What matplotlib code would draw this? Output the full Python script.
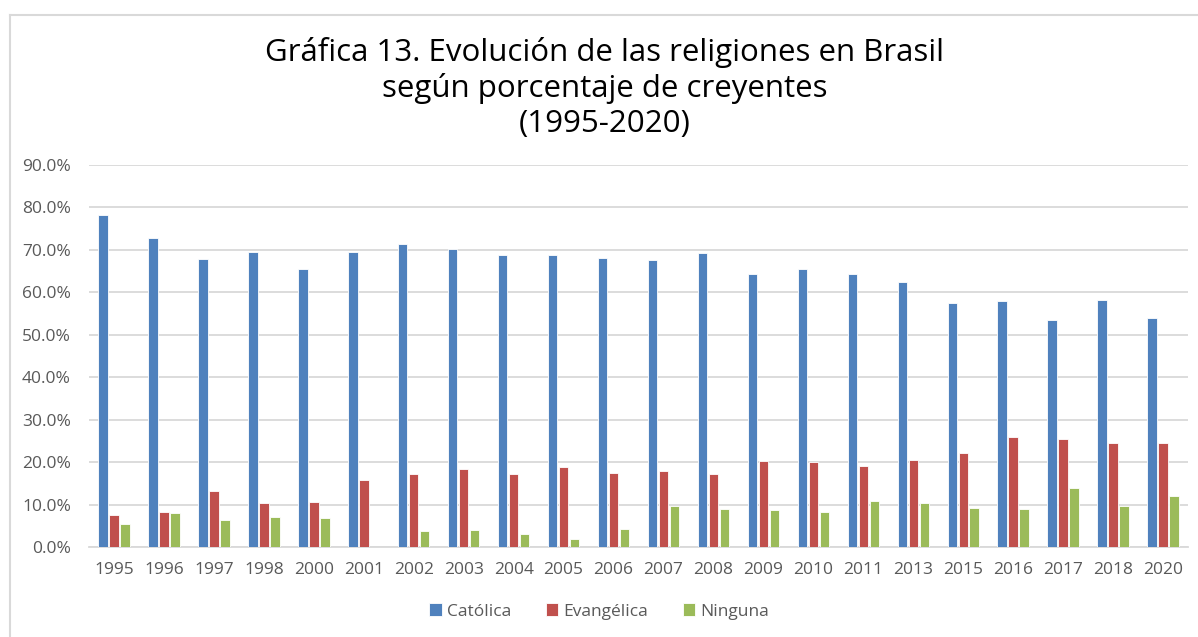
import numpy as np
import matplotlib
matplotlib.use("Agg")
import matplotlib.pyplot as plt
from matplotlib.ticker import PercentFormatter
from matplotlib.lines import Line2D

years = ["1995", "1996", "1997", "1998", "2000", "2001", "2002", "2003", "2004", "2005", "2006",
         "2007", "2008", "2009", "2010", "2011", "2013", "2015", "2016", "2017", "2018", "2020"]
catolica = [78.2, 72.9, 67.8, 69.4, 65.6, 69.6, 71.3, 70.1, 68.9, 68.9, 68.2,
            67.5, 69.2, 64.2, 65.6, 64.4, 62.4, 57.6, 57.9, 53.5, 58.1, 54.0]
evangelica = [7.5, 8.3, 13.1, 10.4, 10.7, 15.7, 17.2, 18.3, 17.2, 18.8, 17.4,
              17.9, 17.2, 20.2, 20.0, 19.1, 20.4, 22.2, 25.9, 25.5, 24.6, 24.4]
ninguna = [5.4, 7.9, 6.4, 7.1, 6.8, 0.0, 3.8, 4.0, 3.1, 1.9, 4.2,
           9.7, 9.0, 8.6, 8.3, 10.8, 10.4, 9.3, 9.0, 13.8, 9.7, 12.1]
series = ["Católica", "Evangélica", "Ninguna"]
colors = ["#4F81BD", "#C0504D", "#9BBB59"]

plt.rcParams['font.family'] = ['Open Sans', 'DejaVu Sans']

fig = plt.figure(figsize=(11.98, 6.37), dpi=100)
ax = fig.add_axes([0.0743, 0.1413, 0.9174, 0.5997])

x = np.arange(len(years))
step = 0.22
width = 0.19
for i, (vals, col) in enumerate(zip([catolica, evangelica, ninguna], colors)):
    ax.bar(x + (i - 1) * step, np.array(vals) / 100, width, color=col,
           edgecolor="white", linewidth=0.6, label=series[i], zorder=3)

ax.set_xlim(-0.5, len(years) - 0.5)
ax.set_ylim(0, 0.9)
ax.set_yticks(np.arange(0, 0.91, 0.1))
ax.yaxis.set_major_formatter(PercentFormatter(1.0, decimals=1))
ax.set_xticks(x)
ax.set_xticklabels(years)
ax.grid(axis="y", color="#D9D9D9", linewidth=1.3, zorder=0)
for s in ["top", "right", "left"]:
    ax.spines[s].set_visible(False)
ax.spines["bottom"].set_color("#D9D9D9")
ax.spines["bottom"].set_linewidth(1.3)
ax.tick_params(axis="both", length=0, colors="#595959", labelsize=12.5)
ax.tick_params(axis="x", pad=11)
ax.tick_params(axis="y", pad=13)

fig.text(0.505, 0.862, "Gráfica 13. Evolución de las religiones en Brasil\nsegún porcentaje de creyentes\n(1995-2020)",
         ha="center", va="center", fontsize=22.5, color="black", linespacing=1.2)

leg = fig.legend(loc="center", bbox_to_anchor=(0.5, 0.04), ncol=3, frameon=False,
                 fontsize=12.5, handlelength=0.7, handleheight=0.7, handletextpad=0.3,
                 columnspacing=2.0)
for t in leg.get_texts():
    t.set_color("#595959")

# outer chart border (left and top visible in the crop)
fig.add_artist(Line2D([10 / 1198, 10 / 1198], [0, 1 - 15 / 637], transform=fig.transFigure,
                      color="#D9D9D9", linewidth=1.5))
fig.add_artist(Line2D([10 / 1198, 1], [1 - 15 / 637, 1 - 15 / 637], transform=fig.transFigure,
                      color="#D9D9D9", linewidth=1.5))

fig.savefig("out.png", dpi=100, facecolor="white")
